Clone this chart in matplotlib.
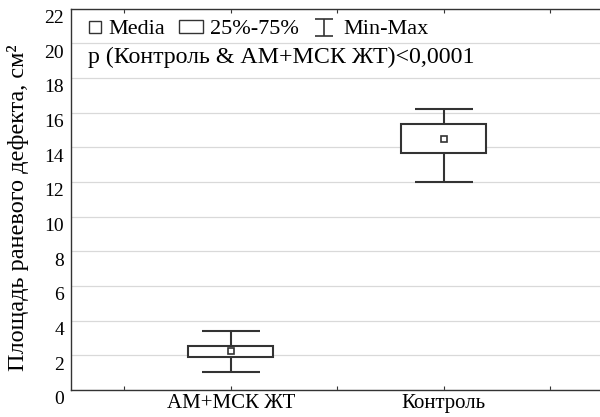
import matplotlib
matplotlib.use("Agg")
import matplotlib.pyplot as plt
import matplotlib.transforms as mtransforms
from matplotlib.patches import Patch
from matplotlib.lines import Line2D
from matplotlib.container import ErrorbarContainer
from matplotlib.legend_handler import HandlerErrorbar, HandlerLine2D
import numpy as np

plt.rcParams['font.family'] = ['Liberation Serif', 'DejaVu Serif']

groups = ['АМ+МСК ЖТ', 'Контроль']
means = [2.25, 14.47]
q25 = [1.91, 13.67]
q75 = [2.51, 15.36]
mins = [1.05, 12.0]
maxs = [3.43, 16.23]

pos = np.array([1, 2])
col = '#333333'


class RightMarker(HandlerLine2D):
    # legend square pushed to the right end of its slot
    def create_artists(self, legend, orig_handle, xdescent, ydescent, width, height, fontsize, trans):
        arts = super().create_artists(legend, orig_handle, xdescent, ydescent,
                                      width, height, fontsize, trans)
        for a in arts:
            a.set_xdata([width - xdescent - 4.6])
        return arts


fig = plt.figure(figsize=(6, 4.17), dpi=100)
ax = fig.add_axes([71/600, 27/417, 532.5/600, 381.5/417])

# whiskers
lo = np.array(means) - np.array(mins)
hi = np.array(maxs) - np.array(means)
ax.errorbar(pos, means, yerr=[lo, hi], fmt='none', ecolor=col, elinewidth=1.5,
            capsize=21, capthick=1.5, zorder=2)
# boxes
ax.bar(pos, np.array(q75) - np.array(q25), bottom=q25, width=0.40,
       color='white', edgecolor=col, linewidth=1.5, zorder=3)
# means
ax.plot(pos, means, ls='none', marker='s', ms=4.5, mfc='white', mec=col, mew=1.2, zorder=4)

ax.set_xlim(0.25, 2.75)
ax.set_ylim(0, 22)
ax.set_yticks(np.arange(0, 23, 2))
ax.set_xticks([0.5, 1, 1.5, 2, 2.5])
ax.set_xticklabels(['', groups[0], '', groups[1], ''])
ax.tick_params(axis='x', direction='in', length=3, top=True, labelsize=15, pad=3, color=col)
ax.tick_params(axis='y', length=0, labelsize=14, pad=5)
ax.yaxis.grid(True, color='#d9d9d9', linewidth=0.9)
ax.set_axisbelow(True)
for s in ['left', 'bottom', 'top']:
    ax.spines[s].set_color(col)
    ax.spines[s].set_linewidth(1.0)
ax.spines['right'].set_visible(False)

off = mtransforms.ScaledTranslation(0, -0.08, fig.dpi_scale_trans)
for lab in ax.get_yticklabels():
    lab.set_transform(lab.get_transform() + off)

ax.set_ylabel('Площадь раневого дефекта, см²', fontsize=17.5)
ax.yaxis.set_label_coords(-0.078, 0.477)

# legend
eb = ax.errorbar([np.nan], [np.nan], yerr=[1], fmt='none', ecolor=col, elinewidth=1.2,
                 capsize=6.5, capthick=1.2)
med = Line2D([], [], ls='none', marker='s', ms=8.5, mfc='white', mec=col, mew=1.0)
handles = [med, Patch(facecolor='white', edgecolor=col, linewidth=1.0), eb]
leg = ax.legend(handles, ['Media', '25%-75%', 'Min-Max'], ncol=3, loc='upper left',
                bbox_to_anchor=(-0.013, 1.005), frameon=False, fontsize=16,
                handlelength=1.1, handleheight=0.55, handletextpad=0.3, columnspacing=0.6,
                borderaxespad=0.2,
                handler_map={ErrorbarContainer: HandlerErrorbar(yerr_size=0.38),
                             med: RightMarker()})

ax.text(0.032, 0.873, 'p (Контроль & АМ+МСК ЖТ)<0,0001', transform=ax.transAxes,
        fontsize=17.2, va='center', ha='left')

fig.savefig('out.png', dpi=100)
